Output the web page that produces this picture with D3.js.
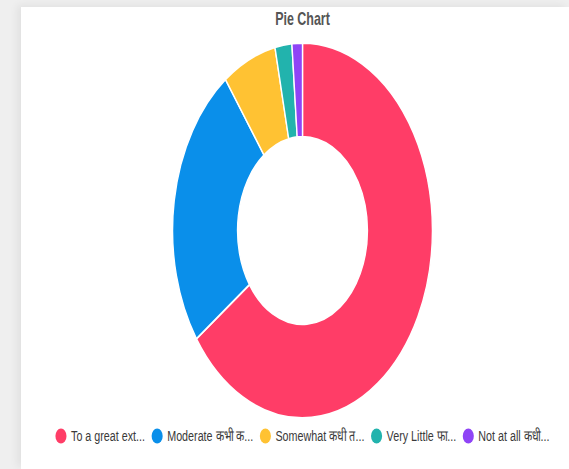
<!DOCTYPE html>
<html>
<head>
<meta charset="utf-8">
<script src="https://cdn.jsdelivr.net/npm/d3@7"></script>
<style>
  html, body { margin: 0; padding: 0; }
  body { width: 569px; height: 469px; background: #efefef; overflow: hidden; position: relative; }
  #card { position: absolute; left: 21px; top: 7px; right: 0; bottom: 0; background: #fff;
          box-shadow: -4px -2px 8px rgba(0,0,0,0.06); }
  svg { position: absolute; left: 0; top: 0; }
</style>
</head>
<body>
<div id="card"></div>
<svg id="chart" width="569" height="469"></svg>
<script>
// datos
const labels = ["To a great ext...", "Moderate कभी क...", "Somewhat कधी त...", "Very Little फा...", "Not at all कधी..."];
const values = [65.2, 24.7, 6.7, 2.1, 1.3];
const colors = ["#ff3d67", "#0a8fea", "#ffc233", "#22b3ad", "#8f44f6"];

const svg = d3.select("#chart");
const sx = 0.693;            // la imagen está comprimida en horizontal
const cx = 302.5 / sx, cy = 230.5;
const outerR = 187.5, innerR = outerR * 0.5;

const g = svg.append("g").attr("transform", `scale(${sx},1)`);

// titulo
g.append("text")
  .attr("x", cx).attr("y", 25)
  .attr("text-anchor", "middle")
  .style("font", "bold 18px 'Liberation Sans', Arial, sans-serif")
  .style("fill", "#555")
  .text("Pie Chart");

// dona
const pie = d3.pie().sort(null).value(d => d);
const arc = d3.arc().innerRadius(innerR).outerRadius(outerR);
g.append("g")
  .attr("transform", `translate(${cx},${cy})`)
  .selectAll("path")
  .data(pie(values))
  .join("path")
  .attr("d", arc)
  .attr("fill", (d, i) => colors[i])
  .attr("stroke", "#fff")
  .attr("stroke-width", 2);

// leyenda
const legend = g.append("g").attr("class", "legend");
const items = legend.selectAll("g").data(labels).join("g");
items.append("ellipse")
  .attr("rx", 8).attr("ry", 7.5)
  .attr("fill", (d, i) => colors[i]);
items.append("text")
  .attr("x", 14.5).attr("dy", "0.35em")
  .style("font", "15.5px 'Liberation Sans', Arial, sans-serif")
  .style("fill", "#3a3a3a")
  .text(d => d);

// coloca los items en fila, centrados
let x = 0;
const pos = [];
items.each(function() {
  const w = d3.select(this).select("text").node().getComputedTextLength();
  pos.push(x);
  x += 14.5 + w + 17.5;
});
const total = x - 17.5 + 8;
const start = cx - total / 2 + 8;
items.attr("transform", (d, i) => `translate(${start + pos[i]},436)`);
</script>
</body>
</html>
